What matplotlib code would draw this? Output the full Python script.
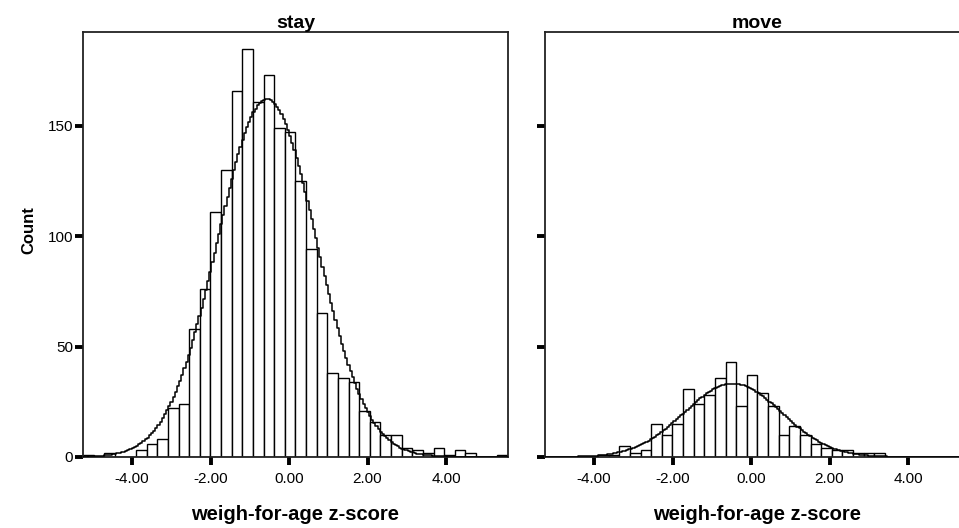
import numpy as np
import matplotlib
matplotlib.use("Agg")
import matplotlib.pyplot as plt

plt.rcParams["font.family"] = ["Liberation Sans", "DejaVu Sans"]

# Histogram binning (40 equal bins over the z-score axis)
bin_start = -5.25
bin_width = 0.2707

stay_counts = [1, 0, 2, 0, 0, 3, 6, 8, 22, 24,
               58, 76, 111, 130, 166, 185, 161, 173, 149, 147,
               125, 94, 65, 38, 36, 34, 21, 16, 10, 10,
               4, 3, 2, 4, 1, 3, 2, 0, 0, 1]
move_counts = [0, 0, 0, 0, 0, 1, 1, 5, 2, 3,
               15, 10, 15, 31, 24, 28, 36, 43, 23, 37,
               29, 23, 10, 14, 10, 6, 4, 3, 3, 2,
               2, 2, 0, 0, 0, 0, 0, 0, 0, 0]

# Normal curve parameters for each group
stay_mean, stay_sd = -0.56, 1.26
move_mean, move_sd = -0.46, 1.24

panel_titles = ["stay", "move"]
x_ticks = [-4, -2, 0, 2, 4]
x_tick_labels = ["-4.00", "-2.00", "0.00", "2.00", "4.00"]
y_ticks = [0, 50, 100, 150]
y_tick_labels = ["0", "50", "100", "150"]

x_min, x_max = -5.25, 5.58
y_max = 192.5

W, H = 959, 528
fig = plt.figure(figsize=(W / 100, H / 100), dpi=100)
ax_stay = fig.add_axes([83 / W, 71 / H, 425 / W, 425 / H])
ax_move = fig.add_axes([545 / W, 71 / H, 425 / W, 425 / H])

edges = bin_start + bin_width * np.arange(len(stay_counts) + 1)


def draw_panel(ax, counts, mean, sd, title, show_ylabels):
    counts = np.asarray(counts, dtype=float)
    ax.bar(edges[:-1], counts, width=bin_width, align="edge",
           facecolor="white", edgecolor="black", linewidth=1.0, zorder=2)

    # stepped normal curve scaled to the histogram
    n = counts.sum()
    xs = np.arange(x_min, x_max + 0.055, 0.055)
    ys = n * bin_width * np.exp(-0.5 * ((xs - mean) / sd) ** 2) / (sd * np.sqrt(2 * np.pi))
    ax.plot(xs, ys, drawstyle="steps-mid", color="black", lw=1.1, zorder=3)

    ax.set_xlim(x_min, x_max)
    ax.set_ylim(0, y_max)
    ax.set_xticks(x_ticks)
    ax.set_xticklabels(x_tick_labels)
    ax.set_yticks(y_ticks)
    if show_ylabels:
        ax.set_yticklabels(y_tick_labels)
    else:
        ax.set_yticklabels([])
    ax.tick_params(direction="out", length=5.5, width=2.8, color="black",
                   labelsize=11)
    ax.tick_params(axis="x", pad=5)
    ax.tick_params(axis="y", pad=1.5)
    for sp in ax.spines.values():
        sp.set_linewidth(1.3)
        sp.set_color("#222222")

    ax.set_title(title, fontsize=14, fontweight="bold", pad=3)
    ax.set_xlabel("weigh-for-age z-score", fontsize=14.5, fontweight="bold")
    ax.xaxis.set_label_coords(0.5, -0.113)


draw_panel(ax_stay, stay_counts, stay_mean, stay_sd, panel_titles[0], True)
draw_panel(ax_move, move_counts, move_mean, move_sd, panel_titles[1], False)

ax_stay.set_ylabel("Count", fontsize=12, fontweight="bold")
ax_stay.yaxis.set_label_coords(-0.11, 0.534)

fig.savefig("out.png", dpi=100)
